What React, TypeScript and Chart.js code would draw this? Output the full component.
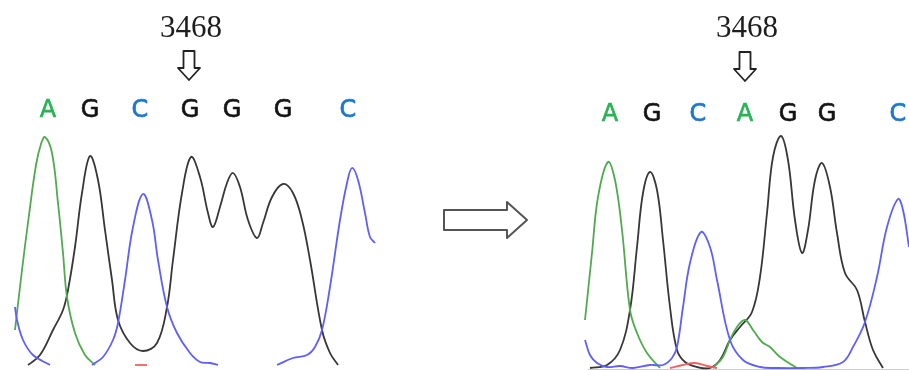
import { useEffect, useRef } from "react";
import { Chart, registerables } from "chart.js";

Chart.register(...registerables);

type P = [number, number];

// ---- Left chromatogram (reference sequence) : [scan, intensity]
const leftA: P[] = [[15,40],[22,100],[29,155],[36,205],[41,226],[45,233],[52,217],[58,167],[63,117],[67,73],[75,37],[85,15],[95,5]];
const leftG: P[] = [[28,5],[40,15],[53,40],[63,60],[68,80],[75,123],[82,177],[90,214],[98,190],[105,140],[112,90],[118,50],[130,27],[143,19],[157,27],[167,63],[173,110],[182,177],[191,213],[200,193],[208,157],[213,143],[220,163],[227,187],[233,197],[240,183],[248,150],[257,132],[263,147],[272,173],[283,186],[293,177],[302,150],[310,110],[322,40],[330,17],[338,5]];
const leftC1: P[] = [[15,63],[17,50],[23,30],[33,15],[50,5]];
const leftC2: P[] = [[92,5],[103,13],[113,30],[118,47],[125,90],[133,143],[143,176],[152,150],[158,110],[167,63],[177,37],[190,17],[200,8],[210,7],[218,5]];
const leftC3: P[] = [[277,5],[293,12],[307,15],[315,23],[322,40],[330,83],[340,150],[347,187],[352,202],[358,190],[365,157],[370,133],[375,127]];
const leftT: P[] = [[135,5],[147,5]];

// ---- Right chromatogram (mutant sequence)
const rightA1: P[] = [[585,50],[592,117],[598,173],[608,208],[615,190],[622,140],[630,60],[637,37],[647,17],[660,2]];
const rightA2: P[] = [[713,2],[723,13],[730,30],[737,43],[745,50],[753,40],[762,28],[770,23],[780,13],[797,2]];
const rightG: P[] = [[590,2],[607,5],[620,20],[630,60],[637,123],[643,177],[650,198],[657,180],[663,130],[670,63],[677,20],[685,8],[697,3],[710,2],[720,10],[730,30],[740,43],[752,58],[760,93],[767,157],[773,213],[781,234],[788,210],[795,150],[802,117],[808,140],[815,190],[822,207],[830,183],[837,137],[845,97],[857,80],[865,48],[873,20],[883,2]];
const rightC: P[] = [[585,30],[590,15],[597,7],[607,3],[620,4],[633,2],[650,5],[663,5],[672,12],[677,23],[683,63],[690,107],[701,138],[710,123],[717,90],[730,30],[743,10],[760,3],[777,2],[803,2],[823,3],[843,8],[853,23],[865,48],[877,93],[887,143],[898,171],[903,160],[909,123]];
const rightT: P[] = [[670,2],[683,5],[695,7],[707,4],[717,2]];

// ---- Base calls
const leftBases = ["A", "G", "C", "G", "G", "G", "C"];
const leftBasePos = [48, 90, 140, 190, 232, 283, 348];
const rightBases = ["A", "G", "C", "A", "G", "G", "C"];
const rightBasePos = [610, 652, 698, 745, 788, 827, 898];
const mutationLabel = "3468";
const mutationPos = [189, 745];

const TRACE = {
  A: "rgb(80,170,80)",
  G: "rgb(55,55,55)",
  C: "rgb(95,95,250)",
  T: "rgb(250,95,95)",
};
const LETTER: Record<string, string> = {
  A: "rgb(40,180,85)",
  G: "#141414",
  C: "rgb(30,120,205)",
};

function ds(data: P[], color: string) {
  return {
    data: data.map(([x, y]) => ({ x, y })),
    borderColor: color,
    borderWidth: 1.8,
    pointRadius: 0,
    fill: false,
    tension: 0.38,
  };
}

function downArrow(ctx: CanvasRenderingContext2D, cx: number, top: number, tip: number) {
  const sw = 5.5, hw = 11, hb = tip - 12;
  ctx.beginPath();
  ctx.moveTo(cx - sw, top);
  ctx.lineTo(cx + sw, top);
  ctx.lineTo(cx + sw, hb);
  ctx.lineTo(cx + hw, hb);
  ctx.lineTo(cx, tip);
  ctx.lineTo(cx - hw, hb);
  ctx.lineTo(cx - sw, hb);
  ctx.closePath();
  ctx.fillStyle = "#fff";
  ctx.fill();
  ctx.strokeStyle = "#222";
  ctx.lineWidth = 1.8;
  ctx.stroke();
}

const overlay = {
  id: "overlay",
  beforeDatasetsDraw(chart: any) {
    const { ctx, scales } = chart;
    const x = scales.x, y = scales.y;
    ctx.save();
    ctx.strokeStyle = "rgba(200,200,200,0.9)";
    ctx.lineWidth = 1;
    const by = Math.round(y.getPixelForValue(1)) + 0.5;
    ctx.beginPath();
    ctx.moveTo(x.getPixelForValue(588), by);
    ctx.lineTo(x.getPixelForValue(909), by);
    ctx.stroke();
    ctx.restore();
  },
  afterDatasetsDraw(chart: any) {
    const { ctx, scales } = chart;
    const x = scales.x;
    ctx.save();
    ctx.textAlign = "center";
    ctx.textBaseline = "alphabetic";
    ctx.lineJoin = "round";
    const panels = [
      { bases: leftBases, pos: leftBasePos, baseY: 117 },
      { bases: rightBases, pos: rightBasePos, baseY: 121 },
    ];
    panels.forEach((p, k) => {
      ctx.font = '24px "DejaVu Sans"';
      p.bases.forEach((b, i) => {
        const px = x.getPixelForValue(p.pos[i]);
        ctx.fillStyle = LETTER[b];
        ctx.strokeStyle = LETTER[b];
        ctx.lineWidth = 0.7;
        ctx.fillText(b, px, p.baseY);
        ctx.strokeText(b, px, p.baseY);
      });
      const mx = x.getPixelForValue(mutationPos[k]);
      ctx.font = '31px "Liberation Serif"';
      ctx.fillStyle = "#1e1e1e";
      ctx.fillText(mutationLabel, mx + 2, 37);
      downArrow(ctx, mx, 51 + k, 80 + k);
    });
    // transition arrow between the two panels
    ctx.beginPath();
    ctx.moveTo(444, 210);
    ctx.lineTo(507, 210);
    ctx.lineTo(507, 202);
    ctx.lineTo(527, 220);
    ctx.lineTo(507, 238);
    ctx.lineTo(507, 230);
    ctx.lineTo(444, 230);
    ctx.closePath();
    ctx.fillStyle = "#fff";
    ctx.fill();
    ctx.strokeStyle = "#555";
    ctx.lineWidth = 2;
    ctx.stroke();
    ctx.restore();
  },
};

export default function App() {
  const ref = useRef<HTMLCanvasElement | null>(null);
  useEffect(() => {
    document.body.style.margin = "0";
    const canvas = ref.current!;
    const chart = new Chart(canvas, {
      type: "line",
      data: {
        datasets: [
          ds(leftC1, TRACE.C),
          ds(leftC2, TRACE.C),
          ds(leftC3, TRACE.C),
          ds(leftT, TRACE.T),
          ds(leftA, TRACE.A),
          ds(leftG, TRACE.G),
          ds(rightT, TRACE.T),
          ds(rightC, TRACE.C),
          ds(rightA1, TRACE.A),
          ds(rightA2, TRACE.A),
          ds(rightG, TRACE.G),
        ],
      },
      options: {
        responsive: false,
        animation: false,
        layout: { padding: 0 },
        plugins: { legend: { display: false }, tooltip: { enabled: false } },
        scales: {
          x: { type: "linear", min: 0, max: 909, display: false },
          y: { type: "linear", min: 0, max: 370, display: false },
        },
      },
      plugins: [overlay],
    });
    return () => chart.destroy();
  }, []);
  return (
    <div style={{ width: 909, height: 370, background: "#fff" }}>
      <canvas ref={ref} width={909} height={370} style={{ display: "block" }} />
    </div>
  );
}
